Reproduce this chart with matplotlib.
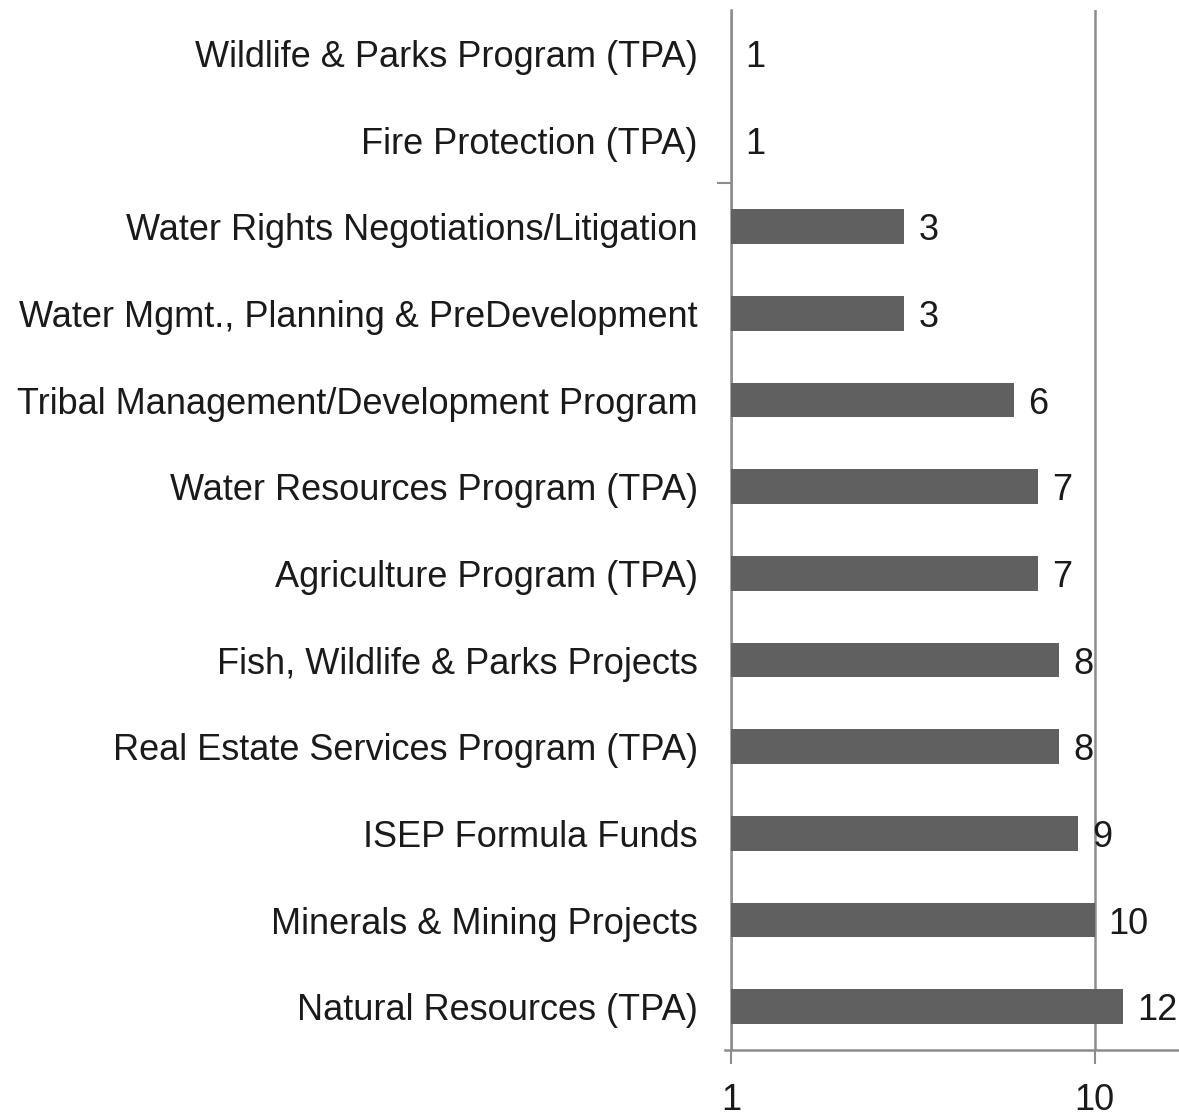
import matplotlib
matplotlib.use("Agg")
import matplotlib.pyplot as plt
from matplotlib.ticker import FixedLocator, NullFormatter, NullLocator

categories = [
    "Natural Resources (TPA)",
    "Minerals & Mining Projects",
    "ISEP Formula Funds",
    "Real Estate Services Program (TPA)",
    "Fish, Wildlife & Parks Projects",
    "Agriculture Program (TPA)",
    "Water Resources Program (TPA)",
    "Tribal Management/Development Program",
    "Water Mgmt., Planning & PreDevelopment",
    "Water Rights Negotiations/Litigation",
    "Fire Protection (TPA)",
    "Wildlife & Parks Program (TPA)",
]
values = [12, 10, 9, 8, 8, 7, 7, 6, 3, 3, 1, 1]
x_ticks = [1, 10]
x_tick_labels = ["1", "10"]

plt.rcParams['font.family'] = ['Liberation Sans', 'DejaVu Sans']
FS = 26

fig = plt.figure(figsize=(11.79, 11.12), dpi=100)
ax = fig.add_axes([731/1179, 62/1112, 1 - 731/1179 + 0.001, (1050-10)/1112])

y = list(range(len(categories)))
ax.barh(y, [v - 1 for v in values], left=1, height=0.4, color="#606060",
        linewidth=0, zorder=3)
ax.set_xscale("log")
ax.set_xlim(1, 17.2)
ax.set_ylim(-0.5, len(categories) - 0.5)

for yi, v in zip(y, values):
    ax.annotate(str(v), xy=(v, yi), xytext=(10, -3), textcoords="offset points",
                ha="left", va="center", fontsize=FS, color="#1a1a1a",
                annotation_clip=False)

ax.set_yticks(y)
ax.set_yticklabels(categories, fontsize=FS, color="#1a1a1a")
ax.tick_params(axis="y", length=0, pad=24)
ax.yaxis.set_minor_locator(FixedLocator([9.5]))
ax.tick_params(axis="y", which="minor", length=10, width=1.5, color="#8c8c8c")

ax.xaxis.set_major_locator(FixedLocator(x_ticks))
ax.set_xticklabels(x_tick_labels, fontsize=FS, color="#1a1a1a")
ax.xaxis.set_minor_locator(NullLocator())
ax.xaxis.set_minor_formatter(NullFormatter())
ax.tick_params(axis="x", length=10, width=1.5, color="#8c8c8c", pad=14)
ax.grid(axis="x", color="#8c8c8c", linewidth=1.8, zorder=0)

for s in ["top", "right"]:
    ax.spines[s].set_visible(False)
ax.spines["left"].set_color("#8c8c8c")
ax.spines["left"].set_linewidth(1.8)
ax.spines["bottom"].set_color("#8c8c8c")
ax.spines["bottom"].set_linewidth(1.8)
ax.spines["bottom"].set_bounds(0.96, 17.2)

fig.savefig("out.png", dpi=100)
